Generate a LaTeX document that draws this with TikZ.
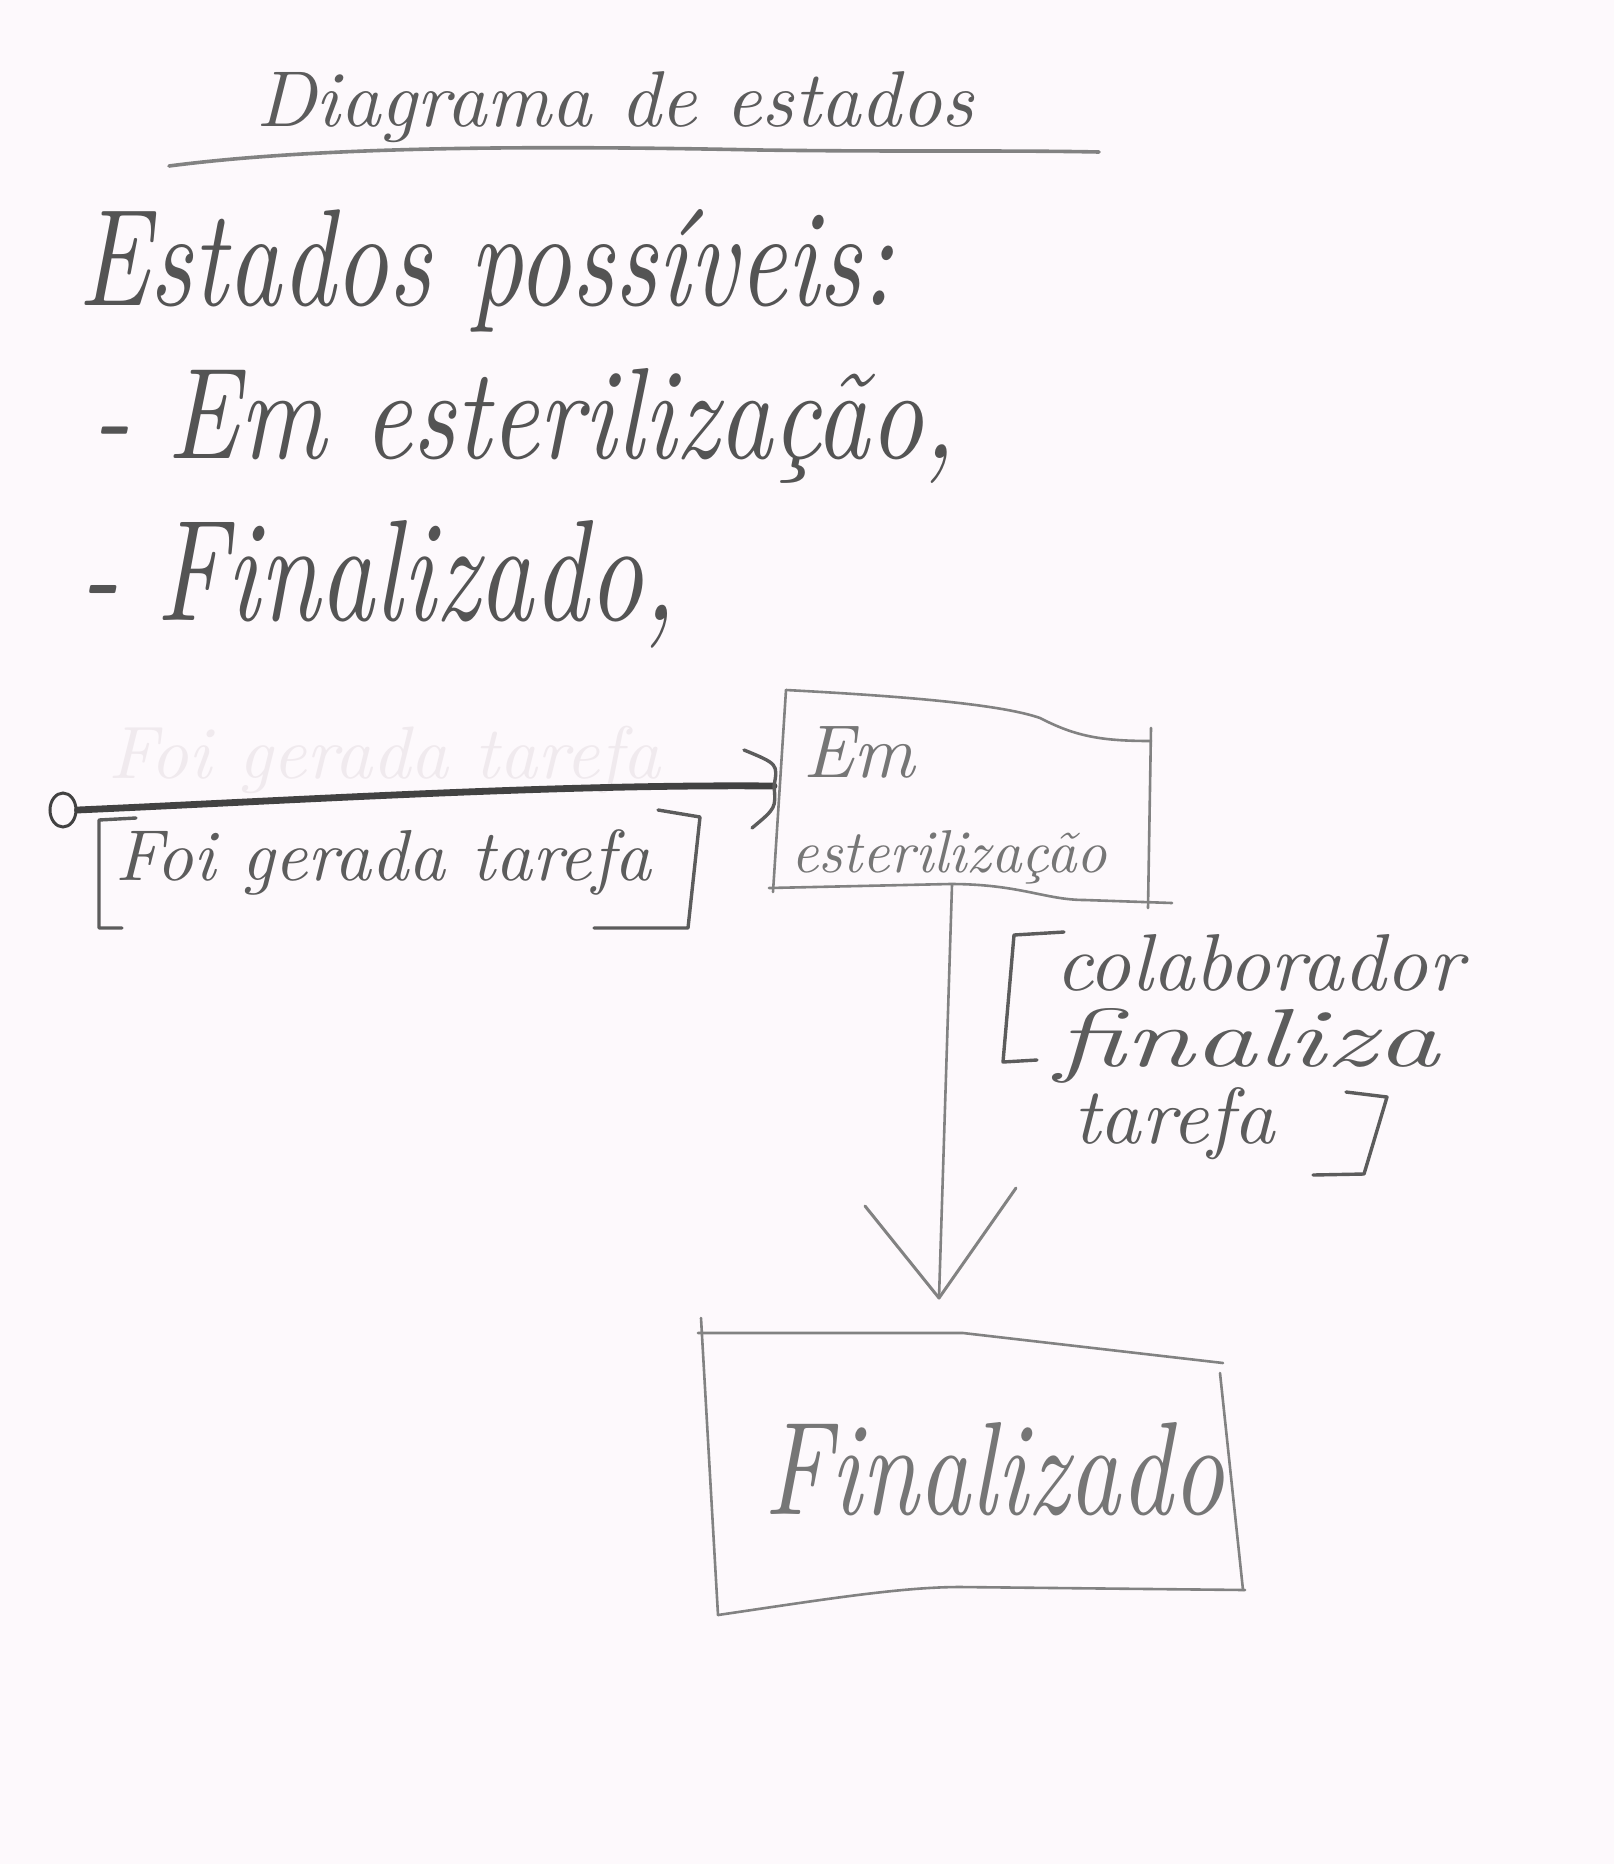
\documentclass[tikz,border=0pt]{standalone}
\usepackage{graphicx}
\usetikzlibrary{calc,shapes.geometric}

\definecolor{paper}{RGB}{253,249,252}
\definecolor{lead}{RGB}{92,92,92}
\definecolor{leadmid}{RGB}{84,84,84}
\definecolor{leadsoft}{RGB}{118,118,118}
\definecolor{leadlight}{RGB}{130,130,130}
\definecolor{leaddark}{RGB}{66,66,66}
\definecolor{ghost}{RGB}{240,234,238}

% scale a piece of handwriting to a given width, or width and height
\newcommand{\fitw}[2]{\resizebox{#1}{!}{#2}}
\newcommand{\fitwh}[3]{\resizebox{#1}{#2}{#3}}

\begin{document}
\begin{tikzpicture}[x=0.5pt,y=-0.5pt,
  hand/.style={inner sep=0pt,outer sep=0pt,anchor=base west,text=lead,font=\itshape},
  boxtext/.style={hand,text=leadsoft},
  pencil/.style={draw=leadlight,line width=1.3pt,line cap=round,line join=round},
  heavypencil/.style={draw=leaddark,line width=3.4pt,line cap=round},
  bracket/.style={draw=lead,line width=1.7pt,line cap=round,line join=round}]

\fill[paper] (0,0) rectangle (1614,1864);
\useasboundingbox (0,0) rectangle (1614,1864);

% heading and underline
\node[hand] (title) at (256,126) {\fitw{359pt}{Diagrama de estados}};
\draw[pencil,line width=1.8pt] (169,166) .. controls (330,145) and (560,146) .. (760,150)
  .. controls (900,152) and (1000,150) .. (1099,152);

% list of states
\node[hand,text=leadmid] (lsthead) at (78,305) {\fitwh{408pt}{48pt}{Estados possíveis:}};
\node[hand,text=leadmid] (lstone) at (92,458) {\fitwh{432pt}{45pt}{- Em esterilização,}};
\node[hand,text=leadmid] (lsttwo) at (80,620) {\fitwh{298pt}{50pt}{- Finalizado,}};

% erased trace of the first guard
\node[hand,text=ghost] (erased) at (108,778) {\fitw{276pt}{Foi gerada tarefa}};

% initial pseudostate
\node[ellipse,draw=leaddark,line width=1.5pt,minimum width=13pt,minimum height=17pt,inner sep=0pt]
  (init) at (63,810) {};

% state: Em esterilizacao
\coordinate (emTL) at (786,690);
\coordinate (emTR) at (1151,741);
\coordinate (emBR) at (1148,908);
\coordinate (emBL) at (773,892);
\draw[pencil] (emTL) .. controls (900,696) and (1000,704) .. (1040,718)
  .. controls (1075,736) and (1100,741) .. (emTR);
\draw[pencil] (1151,728) -- (emBR);
\draw[pencil] (emTL) -- (emBL);
\draw[pencil] (769,888) -- (950,884) .. controls (1020,884) and (1045,900) .. (1085,900) -- (1172,903);
\node[boxtext] (emA) at (803,777) {\fitw{56pt}{Em}};
\node[boxtext] (emB) at (791,872) {\fitwh{158pt}{21pt}{esterilização}};

% first transition
\coordinate (emin) at (774,786);
\draw[heavypencil] (init.east) .. controls (300,800) and (560,784) .. (emin);
\draw[bracket] ($(emin)+(-30,-36)$) .. controls ($(emin)+(4,-22)$) .. (emin)
  .. controls ($(emin)+(2,22)$) .. ($(emin)+(-22,42)$);
\draw[bracket] (136,818) -- (99,820) -- (99,928) -- (122,928);
\draw[bracket] (658,810) -- (700,817) -- (688,928) -- (594,928);
\node[hand] (guardA) at (115,880) {\fitw{268pt}{Foi gerada tarefa}};

% state: Finalizado
\coordinate (fnTL) at (698,1333);
\coordinate (fnTR) at (1223,1363);
\coordinate (fnBR) at (1245,1590);
\coordinate (fnBL) at (718,1615);
\draw[pencil] (fnTL) -- (963,1333) -- (fnTR);
\draw[pencil] (701,1318) -- (fnBL);
\draw[pencil] (fnBL) .. controls (820,1600) and (900,1587) .. (960,1587) -- (fnBR);
\draw[pencil] (1220,1373) -- (1243,1590);
\node[boxtext] (fnA) at (764,1514) {\fitwh{230pt}{46pt}{Finalizado}};

% second transition
\coordinate (emS) at (952,885);
\coordinate (fnN) at (939,1298);
\draw[pencil] (emS) -- (fnN);
\draw[pencil,line width=1.5pt] ($(fnN)+(-74,-92)$) -- (fnN) -- ($(fnN)+(77,-110)$);
\draw[bracket] (1064,932) -- (1014,935) -- (1003,1062) -- (1037,1060);
\draw[bracket] (1346,1092) -- (1387,1097) -- (1364,1174) -- (1313,1175);
\node[hand] (guardB1) at (1055,990) {\fitwh{204pt}{28pt}{colaborador}};
\node[hand] (guardB2) at (1055,1066) {\fitwh{192pt}{29pt}{finaliza}};
\node[hand] (guardB3) at (1073,1143) {\fitwh{101pt}{28pt}{tarefa}};
\end{tikzpicture}
\end{document}
